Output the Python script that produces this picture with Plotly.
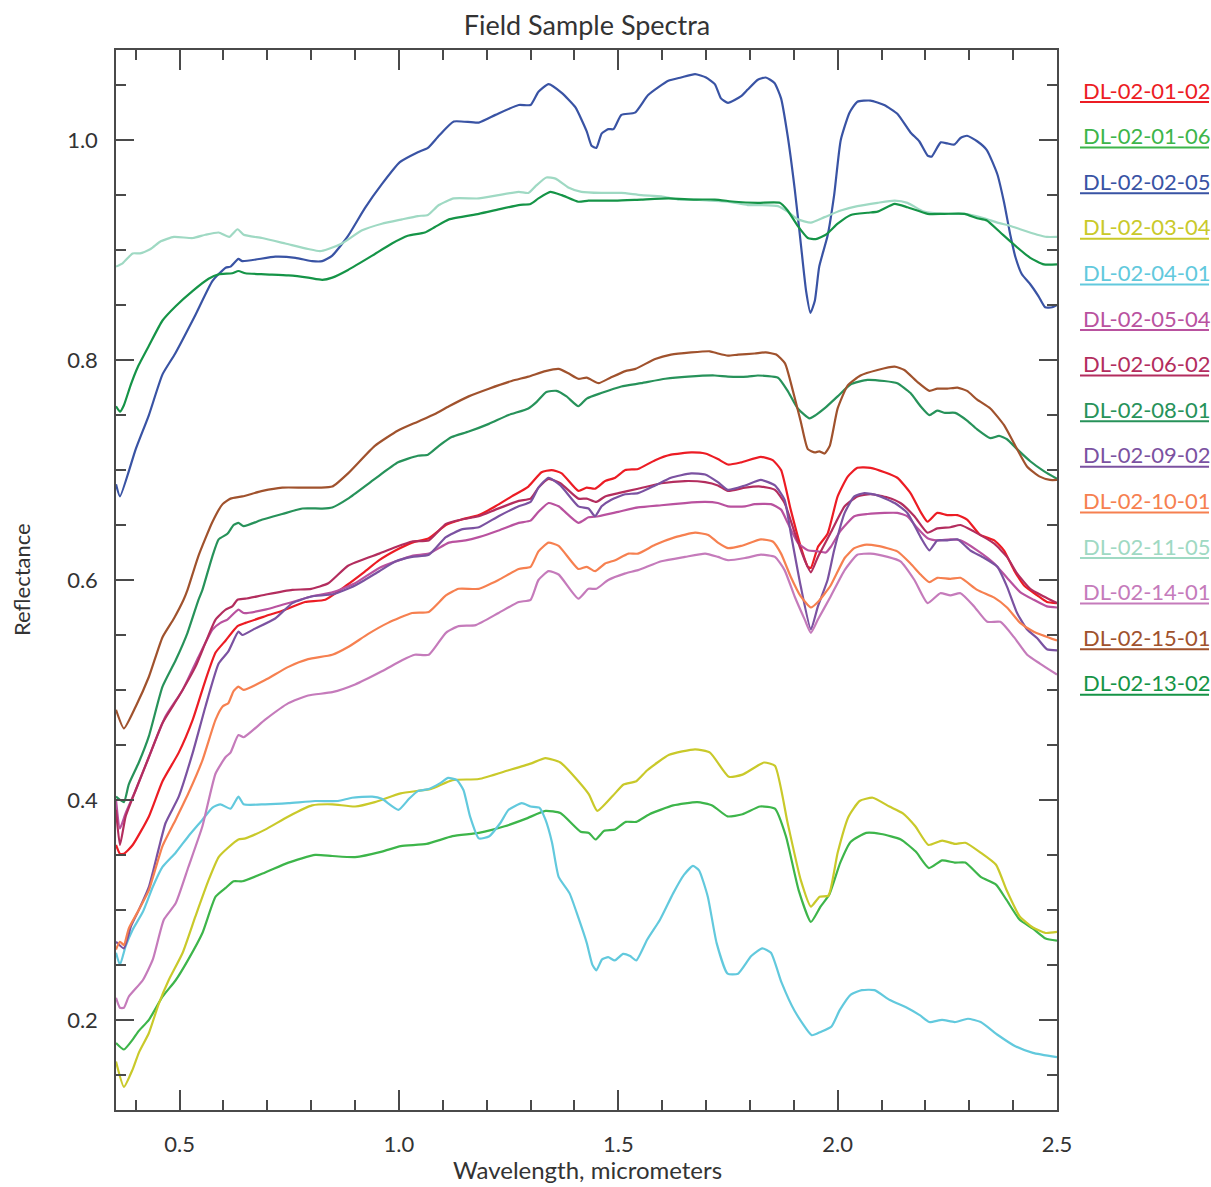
import plotly.graph_objects as go

# ---------------- data ----------------
wl_0102 = [0.355,0.364,0.373,0.393,0.43,0.461,0.498,0.53,0.559,0.582,0.605,0.632,0.65,0.695,0.741,0.786,0.832,0.88,0.92,0.955,0.993,1.03,1.068,1.107,1.143,1.182,1.22,1.257,1.295,1.325,1.348,1.371,1.409,1.428,1.447,1.47,1.493,1.516,1.545,1.584,1.62,1.666,1.698,1.727,1.75,1.78,1.825,1.852,1.871,1.893,1.916,1.932,1.939,1.955,1.977,2.0,2.023,2.045,2.075,2.107,2.136,2.166,2.189,2.205,2.227,2.25,2.273,2.295,2.325,2.357,2.379,2.402,2.425,2.455,2.477,2.5]
r_0102 = [0.359,0.351,0.351,0.359,0.385,0.417,0.443,0.473,0.509,0.534,0.545,0.558,0.561,0.567,0.573,0.58,0.582,0.595,0.607,0.618,0.627,0.634,0.638,0.65,0.655,0.659,0.667,0.676,0.685,0.698,0.70,0.697,0.681,0.684,0.683,0.69,0.693,0.70,0.701,0.709,0.714,0.716,0.715,0.71,0.705,0.707,0.712,0.709,0.70,0.664,0.63,0.612,0.611,0.63,0.642,0.676,0.694,0.702,0.702,0.698,0.693,0.679,0.662,0.653,0.661,0.659,0.659,0.655,0.641,0.636,0.627,0.609,0.595,0.586,0.58,0.579]

wl_0106 = [0.355,0.373,0.393,0.407,0.43,0.461,0.491,0.52,0.552,0.582,0.605,0.623,0.643,0.695,0.748,0.809,0.848,0.90,0.961,1.004,1.063,1.122,1.182,1.241,1.29,1.334,1.368,1.414,1.433,1.448,1.468,1.492,1.517,1.541,1.571,1.625,1.68,1.714,1.749,1.783,1.823,1.857,1.882,1.911,1.939,1.961,1.981,2.006,2.03,2.065,2.099,2.144,2.178,2.208,2.238,2.267,2.291,2.326,2.361,2.385,2.415,2.445,2.474,2.5]
r_0106 = [0.179,0.173,0.182,0.19,0.20,0.221,0.236,0.255,0.279,0.312,0.32,0.326,0.326,0.334,0.343,0.35,0.349,0.348,0.353,0.358,0.36,0.367,0.37,0.376,0.383,0.39,0.388,0.371,0.37,0.364,0.372,0.373,0.38,0.38,0.387,0.395,0.398,0.395,0.385,0.387,0.394,0.392,0.367,0.318,0.289,0.303,0.314,0.343,0.362,0.37,0.369,0.364,0.353,0.338,0.345,0.343,0.343,0.33,0.323,0.309,0.291,0.283,0.274,0.272]

wl_0205 = [0.355,0.364,0.40,0.43,0.461,0.49,0.536,0.575,0.605,0.616,0.634,0.643,0.718,0.764,0.802,0.825,0.848,0.884,0.922,0.961,1.002,1.043,1.066,1.091,1.125,1.182,1.22,1.273,1.30,1.318,1.341,1.371,1.402,1.428,1.439,1.45,1.462,1.477,1.489,1.507,1.538,1.568,1.614,1.643,1.675,1.70,1.72,1.734,1.75,1.78,1.795,1.818,1.836,1.856,1.871,1.886,1.902,1.916,1.928,1.938,1.948,1.958,1.977,1.992,2.007,2.027,2.045,2.075,2.106,2.136,2.166,2.186,2.205,2.214,2.235,2.25,2.266,2.28,2.295,2.318,2.34,2.364,2.379,2.394,2.405,2.42,2.439,2.458,2.473,2.489,2.5]
r_0205 = [0.687,0.676,0.719,0.75,0.787,0.806,0.841,0.872,0.884,0.885,0.892,0.89,0.894,0.893,0.89,0.89,0.895,0.913,0.938,0.96,0.98,0.989,0.993,1.004,1.017,1.016,1.023,1.032,1.032,1.044,1.051,1.043,1.03,1.008,0.995,0.993,1.006,1.01,1.01,1.023,1.025,1.041,1.054,1.057,1.06,1.057,1.051,1.038,1.034,1.04,1.046,1.055,1.057,1.052,1.038,1.004,0.956,0.906,0.863,0.843,0.854,0.885,0.913,0.95,1.0,1.025,1.035,1.036,1.032,1.024,1.007,0.999,0.986,0.985,0.998,0.997,0.996,1.002,1.004,0.999,0.991,0.969,0.944,0.913,0.894,0.878,0.869,0.858,0.848,0.848,0.85]

wl_0304 = [0.355,0.373,0.393,0.407,0.43,0.452,0.475,0.507,0.536,0.566,0.589,0.609,0.634,0.65,0.695,0.748,0.802,0.848,0.90,0.945,1.004,1.073,1.122,1.182,1.25,1.30,1.334,1.368,1.409,1.433,1.452,1.488,1.512,1.541,1.566,1.616,1.675,1.709,1.752,1.783,1.832,1.857,1.886,1.916,1.939,1.959,1.979,2.0,2.025,2.05,2.08,2.118,2.148,2.177,2.207,2.238,2.267,2.291,2.326,2.361,2.385,2.415,2.445,2.474,2.5]
r_0304 = [0.162,0.139,0.155,0.17,0.188,0.214,0.236,0.261,0.294,0.327,0.348,0.356,0.364,0.365,0.373,0.385,0.395,0.396,0.394,0.398,0.406,0.41,0.418,0.419,0.427,0.433,0.438,0.434,0.417,0.405,0.39,0.404,0.414,0.417,0.427,0.441,0.446,0.443,0.421,0.423,0.434,0.431,0.379,0.327,0.303,0.312,0.313,0.352,0.385,0.399,0.402,0.394,0.388,0.376,0.359,0.363,0.36,0.361,0.352,0.341,0.318,0.294,0.284,0.279,0.28]

wl_0401 = [0.355,0.364,0.377,0.393,0.416,0.439,0.461,0.491,0.52,0.552,0.575,0.593,0.616,0.634,0.646,0.695,0.748,0.809,0.861,0.893,0.939,0.961,0.999,1.023,1.043,1.068,1.093,1.112,1.132,1.147,1.162,1.182,1.206,1.231,1.25,1.28,1.30,1.32,1.334,1.349,1.364,1.389,1.408,1.428,1.441,1.45,1.463,1.477,1.492,1.511,1.527,1.541,1.566,1.595,1.625,1.65,1.67,1.684,1.704,1.724,1.749,1.773,1.803,1.828,1.848,1.872,1.902,1.941,1.961,1.986,2.005,2.03,2.055,2.084,2.119,2.158,2.188,2.209,2.238,2.267,2.297,2.326,2.366,2.405,2.445,2.5]
r_0401 = [0.261,0.25,0.267,0.282,0.298,0.321,0.339,0.352,0.367,0.382,0.393,0.396,0.392,0.403,0.396,0.396,0.397,0.399,0.399,0.402,0.403,0.401,0.391,0.401,0.408,0.41,0.415,0.42,0.418,0.409,0.385,0.365,0.367,0.379,0.391,0.397,0.394,0.393,0.382,0.361,0.33,0.315,0.294,0.27,0.25,0.245,0.255,0.257,0.254,0.26,0.258,0.254,0.273,0.291,0.315,0.332,0.34,0.336,0.312,0.27,0.242,0.242,0.258,0.265,0.261,0.234,0.208,0.186,0.189,0.194,0.209,0.223,0.227,0.227,0.218,0.211,0.204,0.198,0.20,0.198,0.201,0.198,0.186,0.176,0.17,0.166]

wl_0504 = [0.355,0.364,0.377,0.40,0.43,0.468,0.507,0.543,0.575,0.593,0.609,0.634,0.646,0.695,0.757,0.80,0.85,0.90,0.955,1.03,1.068,1.114,1.152,1.182,1.227,1.273,1.30,1.318,1.341,1.364,1.409,1.432,1.455,1.50,1.545,1.598,1.652,1.698,1.727,1.75,1.789,1.811,1.848,1.871,1.886,1.909,1.932,1.955,1.973,1.984,2.007,2.038,2.068,2.107,2.136,2.159,2.182,2.205,2.227,2.257,2.28,2.318,2.357,2.386,2.416,2.447,2.477,2.5]
r_0504 = [0.40,0.374,0.388,0.409,0.439,0.476,0.50,0.53,0.555,0.561,0.564,0.573,0.57,0.573,0.58,0.585,0.589,0.597,0.611,0.622,0.624,0.634,0.636,0.639,0.645,0.652,0.654,0.662,0.67,0.667,0.652,0.657,0.658,0.662,0.666,0.668,0.67,0.671,0.67,0.667,0.667,0.669,0.669,0.664,0.652,0.634,0.627,0.626,0.625,0.63,0.645,0.658,0.66,0.661,0.661,0.658,0.647,0.638,0.636,0.637,0.636,0.627,0.615,0.602,0.589,0.582,0.576,0.575]

wl_0602 = [0.355,0.364,0.377,0.40,0.43,0.461,0.498,0.536,0.559,0.582,0.605,0.62,0.632,0.65,0.70,0.757,0.80,0.839,0.884,0.955,0.993,1.03,1.068,1.107,1.143,1.182,1.22,1.273,1.30,1.318,1.341,1.368,1.409,1.428,1.45,1.47,1.50,1.545,1.598,1.652,1.698,1.727,1.75,1.789,1.825,1.857,1.879,1.902,1.925,1.939,1.955,1.984,2.016,2.045,2.075,2.114,2.143,2.175,2.205,2.227,2.257,2.28,2.311,2.357,2.386,2.409,2.439,2.47,2.5]
r_0602 = [0.391,0.359,0.385,0.409,0.439,0.47,0.494,0.521,0.543,0.564,0.573,0.576,0.582,0.583,0.587,0.591,0.592,0.597,0.613,0.624,0.63,0.635,0.636,0.651,0.655,0.658,0.664,0.672,0.674,0.684,0.692,0.688,0.674,0.674,0.671,0.676,0.679,0.683,0.688,0.69,0.689,0.686,0.681,0.684,0.685,0.682,0.67,0.643,0.618,0.607,0.621,0.643,0.667,0.676,0.678,0.675,0.67,0.658,0.643,0.647,0.648,0.65,0.644,0.633,0.621,0.606,0.592,0.585,0.579]

wl_0801 = [0.355,0.373,0.384,0.407,0.43,0.461,0.491,0.518,0.543,0.552,0.575,0.589,0.609,0.623,0.634,0.646,0.689,0.734,0.78,0.825,0.848,0.884,0.945,0.998,1.043,1.066,1.091,1.12,1.159,1.205,1.25,1.295,1.314,1.336,1.359,1.382,1.409,1.428,1.461,1.507,1.552,1.607,1.659,1.72,1.75,1.795,1.818,1.864,1.886,1.909,1.936,1.95,1.97,2.0,2.03,2.068,2.106,2.136,2.166,2.189,2.209,2.227,2.245,2.268,2.295,2.318,2.348,2.368,2.386,2.409,2.439,2.47,2.5]
r_0801 = [0.403,0.398,0.414,0.434,0.458,0.503,0.527,0.552,0.582,0.591,0.622,0.637,0.642,0.65,0.652,0.649,0.655,0.66,0.665,0.665,0.666,0.674,0.692,0.707,0.713,0.714,0.722,0.73,0.735,0.742,0.75,0.756,0.762,0.771,0.772,0.767,0.758,0.765,0.77,0.776,0.779,0.783,0.785,0.786,0.785,0.785,0.786,0.784,0.772,0.756,0.747,0.75,0.756,0.767,0.778,0.782,0.781,0.779,0.77,0.758,0.75,0.754,0.752,0.752,0.745,0.737,0.729,0.731,0.728,0.719,0.708,0.699,0.692]

wl_0902 = [0.355,0.373,0.389,0.407,0.43,0.452,0.468,0.498,0.53,0.559,0.589,0.611,0.634,0.643,0.673,0.718,0.757,0.80,0.85,0.90,0.955,0.993,1.03,1.068,1.107,1.143,1.182,1.227,1.273,1.30,1.318,1.341,1.368,1.409,1.432,1.447,1.462,1.484,1.516,1.545,1.584,1.62,1.666,1.698,1.727,1.75,1.789,1.825,1.857,1.879,1.893,1.916,1.939,1.955,1.977,1.992,2.016,2.038,2.061,2.091,2.13,2.159,2.189,2.209,2.227,2.25,2.273,2.302,2.334,2.364,2.386,2.409,2.432,2.455,2.477,2.5]
r_0902 = [0.271,0.265,0.285,0.30,0.321,0.355,0.379,0.403,0.443,0.485,0.524,0.535,0.553,0.55,0.556,0.565,0.579,0.585,0.587,0.595,0.608,0.617,0.621,0.623,0.639,0.646,0.648,0.658,0.667,0.671,0.684,0.693,0.686,0.667,0.665,0.658,0.667,0.673,0.678,0.679,0.686,0.693,0.697,0.696,0.689,0.682,0.686,0.691,0.686,0.673,0.643,0.594,0.555,0.576,0.60,0.627,0.661,0.676,0.679,0.677,0.67,0.661,0.639,0.627,0.636,0.636,0.637,0.627,0.62,0.612,0.594,0.57,0.555,0.547,0.537,0.536]

wl_1001 = [0.355,0.364,0.373,0.384,0.407,0.43,0.461,0.491,0.52,0.552,0.582,0.598,0.611,0.623,0.634,0.646,0.695,0.748,0.793,0.848,0.884,0.93,0.975,1.03,1.068,1.107,1.136,1.182,1.227,1.273,1.30,1.318,1.341,1.364,1.409,1.428,1.447,1.47,1.493,1.523,1.545,1.584,1.63,1.675,1.705,1.727,1.75,1.78,1.825,1.852,1.871,1.893,1.916,1.939,1.955,1.984,2.016,2.038,2.061,2.091,2.136,2.166,2.189,2.209,2.227,2.257,2.28,2.318,2.357,2.386,2.416,2.447,2.5]
r_1001 = [0.264,0.271,0.268,0.283,0.30,0.318,0.358,0.382,0.406,0.436,0.473,0.485,0.488,0.499,0.503,0.50,0.509,0.521,0.528,0.532,0.539,0.551,0.561,0.57,0.571,0.586,0.592,0.592,0.60,0.61,0.612,0.626,0.634,0.631,0.61,0.612,0.608,0.615,0.618,0.624,0.624,0.632,0.639,0.643,0.641,0.634,0.629,0.631,0.637,0.635,0.624,0.603,0.585,0.575,0.58,0.595,0.62,0.629,0.632,0.631,0.626,0.615,0.605,0.598,0.602,0.601,0.602,0.591,0.584,0.575,0.561,0.553,0.545]

wl_1105 = [0.355,0.37,0.393,0.41,0.434,0.457,0.487,0.53,0.559,0.589,0.613,0.632,0.646,0.688,0.741,0.793,0.82,0.839,0.87,0.916,0.961,1.007,1.043,1.066,1.091,1.125,1.182,1.227,1.273,1.295,1.311,1.336,1.357,1.386,1.416,1.461,1.507,1.552,1.598,1.636,1.675,1.711,1.75,1.795,1.818,1.864,1.886,1.909,1.939,1.97,2.007,2.045,2.091,2.13,2.159,2.197,2.243,2.289,2.334,2.364,2.394,2.416,2.455,2.477,2.5]
r_1105 = [0.885,0.888,0.897,0.897,0.901,0.908,0.912,0.911,0.914,0.916,0.912,0.919,0.914,0.911,0.906,0.901,0.899,0.901,0.906,0.918,0.924,0.928,0.931,0.932,0.941,0.947,0.947,0.95,0.953,0.952,0.958,0.966,0.965,0.957,0.953,0.952,0.952,0.95,0.949,0.946,0.946,0.945,0.944,0.941,0.941,0.94,0.935,0.928,0.925,0.93,0.936,0.94,0.943,0.945,0.943,0.935,0.933,0.933,0.929,0.925,0.922,0.919,0.914,0.912,0.912]

wl_1401 = [0.355,0.364,0.373,0.384,0.416,0.439,0.464,0.491,0.52,0.552,0.582,0.605,0.616,0.634,0.646,0.695,0.748,0.793,0.848,0.90,0.961,1.007,1.036,1.068,1.107,1.136,1.175,1.227,1.273,1.30,1.318,1.341,1.364,1.409,1.432,1.45,1.477,1.516,1.545,1.598,1.652,1.698,1.727,1.75,1.789,1.825,1.857,1.879,1.902,1.925,1.939,1.955,1.984,2.016,2.045,2.075,2.114,2.143,2.175,2.205,2.234,2.257,2.28,2.311,2.341,2.371,2.402,2.432,2.461,2.5]
r_1401 = [0.22,0.211,0.211,0.221,0.236,0.255,0.291,0.306,0.339,0.376,0.424,0.439,0.443,0.459,0.457,0.473,0.488,0.495,0.498,0.505,0.517,0.527,0.532,0.532,0.552,0.558,0.559,0.57,0.58,0.582,0.60,0.608,0.605,0.583,0.592,0.592,0.60,0.606,0.609,0.617,0.621,0.624,0.621,0.618,0.62,0.623,0.621,0.609,0.585,0.564,0.552,0.564,0.585,0.609,0.623,0.624,0.621,0.617,0.60,0.579,0.588,0.586,0.588,0.576,0.562,0.562,0.548,0.532,0.524,0.514]

wl_1501 = [0.355,0.373,0.40,0.43,0.461,0.487,0.509,0.518,0.543,0.575,0.598,0.616,0.643,0.689,0.734,0.78,0.82,0.848,0.884,0.945,0.998,1.043,1.082,1.114,1.159,1.205,1.257,1.295,1.334,1.364,1.386,1.409,1.428,1.455,1.482,1.516,1.539,1.584,1.62,1.666,1.709,1.727,1.75,1.773,1.811,1.836,1.86,1.88,1.898,1.916,1.932,1.948,1.958,1.97,1.982,2.0,2.023,2.052,2.091,2.13,2.152,2.182,2.209,2.227,2.25,2.273,2.295,2.318,2.348,2.379,2.409,2.432,2.461,2.484,2.5]
r_1501 = [0.482,0.465,0.485,0.512,0.548,0.565,0.582,0.591,0.622,0.653,0.669,0.674,0.676,0.681,0.684,0.684,0.684,0.685,0.697,0.722,0.736,0.744,0.751,0.758,0.767,0.774,0.781,0.785,0.79,0.792,0.788,0.783,0.784,0.779,0.784,0.79,0.792,0.801,0.805,0.807,0.808,0.806,0.804,0.805,0.806,0.807,0.805,0.797,0.772,0.744,0.719,0.716,0.717,0.715,0.722,0.756,0.777,0.786,0.791,0.794,0.791,0.78,0.772,0.774,0.774,0.775,0.772,0.764,0.756,0.741,0.719,0.703,0.694,0.691,0.691]

wl_1302 = [0.355,0.364,0.373,0.389,0.405,0.43,0.461,0.491,0.53,0.566,0.589,0.62,0.634,0.65,0.695,0.748,0.793,0.825,0.848,0.884,0.939,0.984,1.02,1.059,1.082,1.114,1.182,1.227,1.273,1.30,1.318,1.345,1.371,1.409,1.432,1.493,1.552,1.614,1.675,1.72,1.766,1.818,1.868,1.886,1.909,1.932,1.95,1.973,2.0,2.03,2.068,2.091,2.13,2.159,2.205,2.243,2.289,2.318,2.34,2.371,2.402,2.439,2.47,2.5]
r_1302 = [0.758,0.753,0.759,0.778,0.794,0.813,0.836,0.849,0.863,0.874,0.878,0.879,0.881,0.879,0.878,0.877,0.875,0.873,0.875,0.882,0.895,0.906,0.913,0.916,0.921,0.928,0.933,0.937,0.941,0.942,0.947,0.953,0.95,0.944,0.945,0.945,0.946,0.947,0.946,0.946,0.944,0.943,0.943,0.936,0.922,0.911,0.91,0.914,0.924,0.932,0.934,0.935,0.942,0.939,0.933,0.933,0.933,0.929,0.927,0.916,0.905,0.893,0.887,0.887]

sample_names = ["DL-02-01-02", "DL-02-01-06", "DL-02-02-05", "DL-02-03-04", "DL-02-04-01",
                "DL-02-05-04", "DL-02-06-02", "DL-02-08-01", "DL-02-09-02", "DL-02-10-01",
                "DL-02-11-05", "DL-02-14-01", "DL-02-15-01", "DL-02-13-02"]
x_ticks = [0.5, 1.0, 1.5, 2.0, 2.5]
y_ticks = [0.2, 0.4, 0.6, 0.8, 1.0]

# ---------------- styling ----------------
series = [
    (wl_0102, r_0102, "#ec1c24"),
    (wl_0106, r_0106, "#3db54a"),
    (wl_0205, r_0205, "#3953a4"),
    (wl_0304, r_0304, "#c9c92a"),
    (wl_0401, r_0401, "#62c9dd"),
    (wl_0504, r_0504, "#b9529f"),
    (wl_0602, r_0602, "#b32d5e"),
    (wl_0801, r_0801, "#27925a"),
    (wl_0902, r_0902, "#7b52a1"),
    (wl_1001, r_1001, "#f68050"),
    (wl_1105, r_1105, "#9fd9c3"),
    (wl_1401, r_1401, "#c57bbb"),
    (wl_1501, r_1501, "#a0522d"),
    (wl_1302, r_1302, "#159447"),
]

FONT = "Lato, 'Open Sans', sans-serif"
TXT = "#333333"
AX = "#4a4a4a"

fig = go.Figure()
for name, (xs, ys, col) in zip(sample_names, series):
    fig.add_trace(go.Scatter(x=xs, y=ys, mode="lines", name=name,
                             line=dict(color=col, width=2.2, shape="spline", smoothing=0.5),
                             showlegend=False))

W, H = 1211, 1187
L, R, T, B = 116, 154, 50, 77
pw, ph = W - L - R, H - T - B

def px_x(p):
    return (p - L) / pw

def px_y(p):
    return (H - B - p) / ph

annotations = []
shapes = []
for i, (name, (_, _, col)) in enumerate(zip(sample_names, series)):
    yc = 90 + i * 45.6
    annotations.append(dict(x=px_x(1081), y=px_y(yc), xref="paper", yref="paper",
                            text=name, showarrow=False, xanchor="left", yanchor="middle",
                            font=dict(family=FONT, size=22, color=col)))
    shapes.append(dict(type="line", xref="paper", yref="paper",
                       x0=px_x(1080), x1=px_x(1209), y0=px_y(yc + 12), y1=px_y(yc + 12),
                       line=dict(color=col, width=2)))

annotations.append(dict(x=px_x(587), y=px_y(1169), xref="paper", yref="paper",
                        text="Wavelength, micrometers", showarrow=False,
                        xanchor="center", yanchor="middle",
                        font=dict(family=FONT, size=24, color=TXT)))
annotations.append(dict(x=px_x(21), y=px_y(580), xref="paper", yref="paper",
                        text="Reflectance", showarrow=False, textangle=-90,
                        xanchor="center", yanchor="middle",
                        font=dict(family=FONT, size=22, color=TXT)))

axis_common = dict(showgrid=False, zeroline=False, showline=True, linecolor=AX,
                   linewidth=1.5, mirror="ticks", ticks="inside", tickcolor=AX,
                   tickwidth=1.5, tickfont=dict(family=FONT, size=22, color=TXT))

fig.update_layout(
    width=W, height=H,
    margin=dict(l=L, r=R, t=T, b=B),
    paper_bgcolor="white", plot_bgcolor="white",
    title=dict(text="Field Sample Spectra", x=587 / W, xanchor="center",
               y=1 - 26 / H, yanchor="middle",
               font=dict(family=FONT, size=27, color=TXT)),
    xaxis=dict(range=[0.355, 2.5], tickvals=x_ticks, ticktext=[f"{v:.1f}" for v in x_ticks],
               ticklen=20, ticklabelstandoff=14,
               minor=dict(dtick=0.1, tick0=0.0, ticks="inside", ticklen=10,
                          tickcolor=AX, tickwidth=1.5),
               **axis_common),
    yaxis=dict(range=[0.118, 1.082], tickvals=y_ticks, ticktext=[f"{v:.1f}" for v in y_ticks],
               ticklen=18, ticklabelstandoff=12,
               minor=dict(dtick=0.05, tick0=0.0, ticks="inside", ticklen=10,
                          tickcolor=AX, tickwidth=1.5),
               **axis_common),
    annotations=annotations,
    shapes=shapes,
    showlegend=False,
)

fig.write_html("out.html")
